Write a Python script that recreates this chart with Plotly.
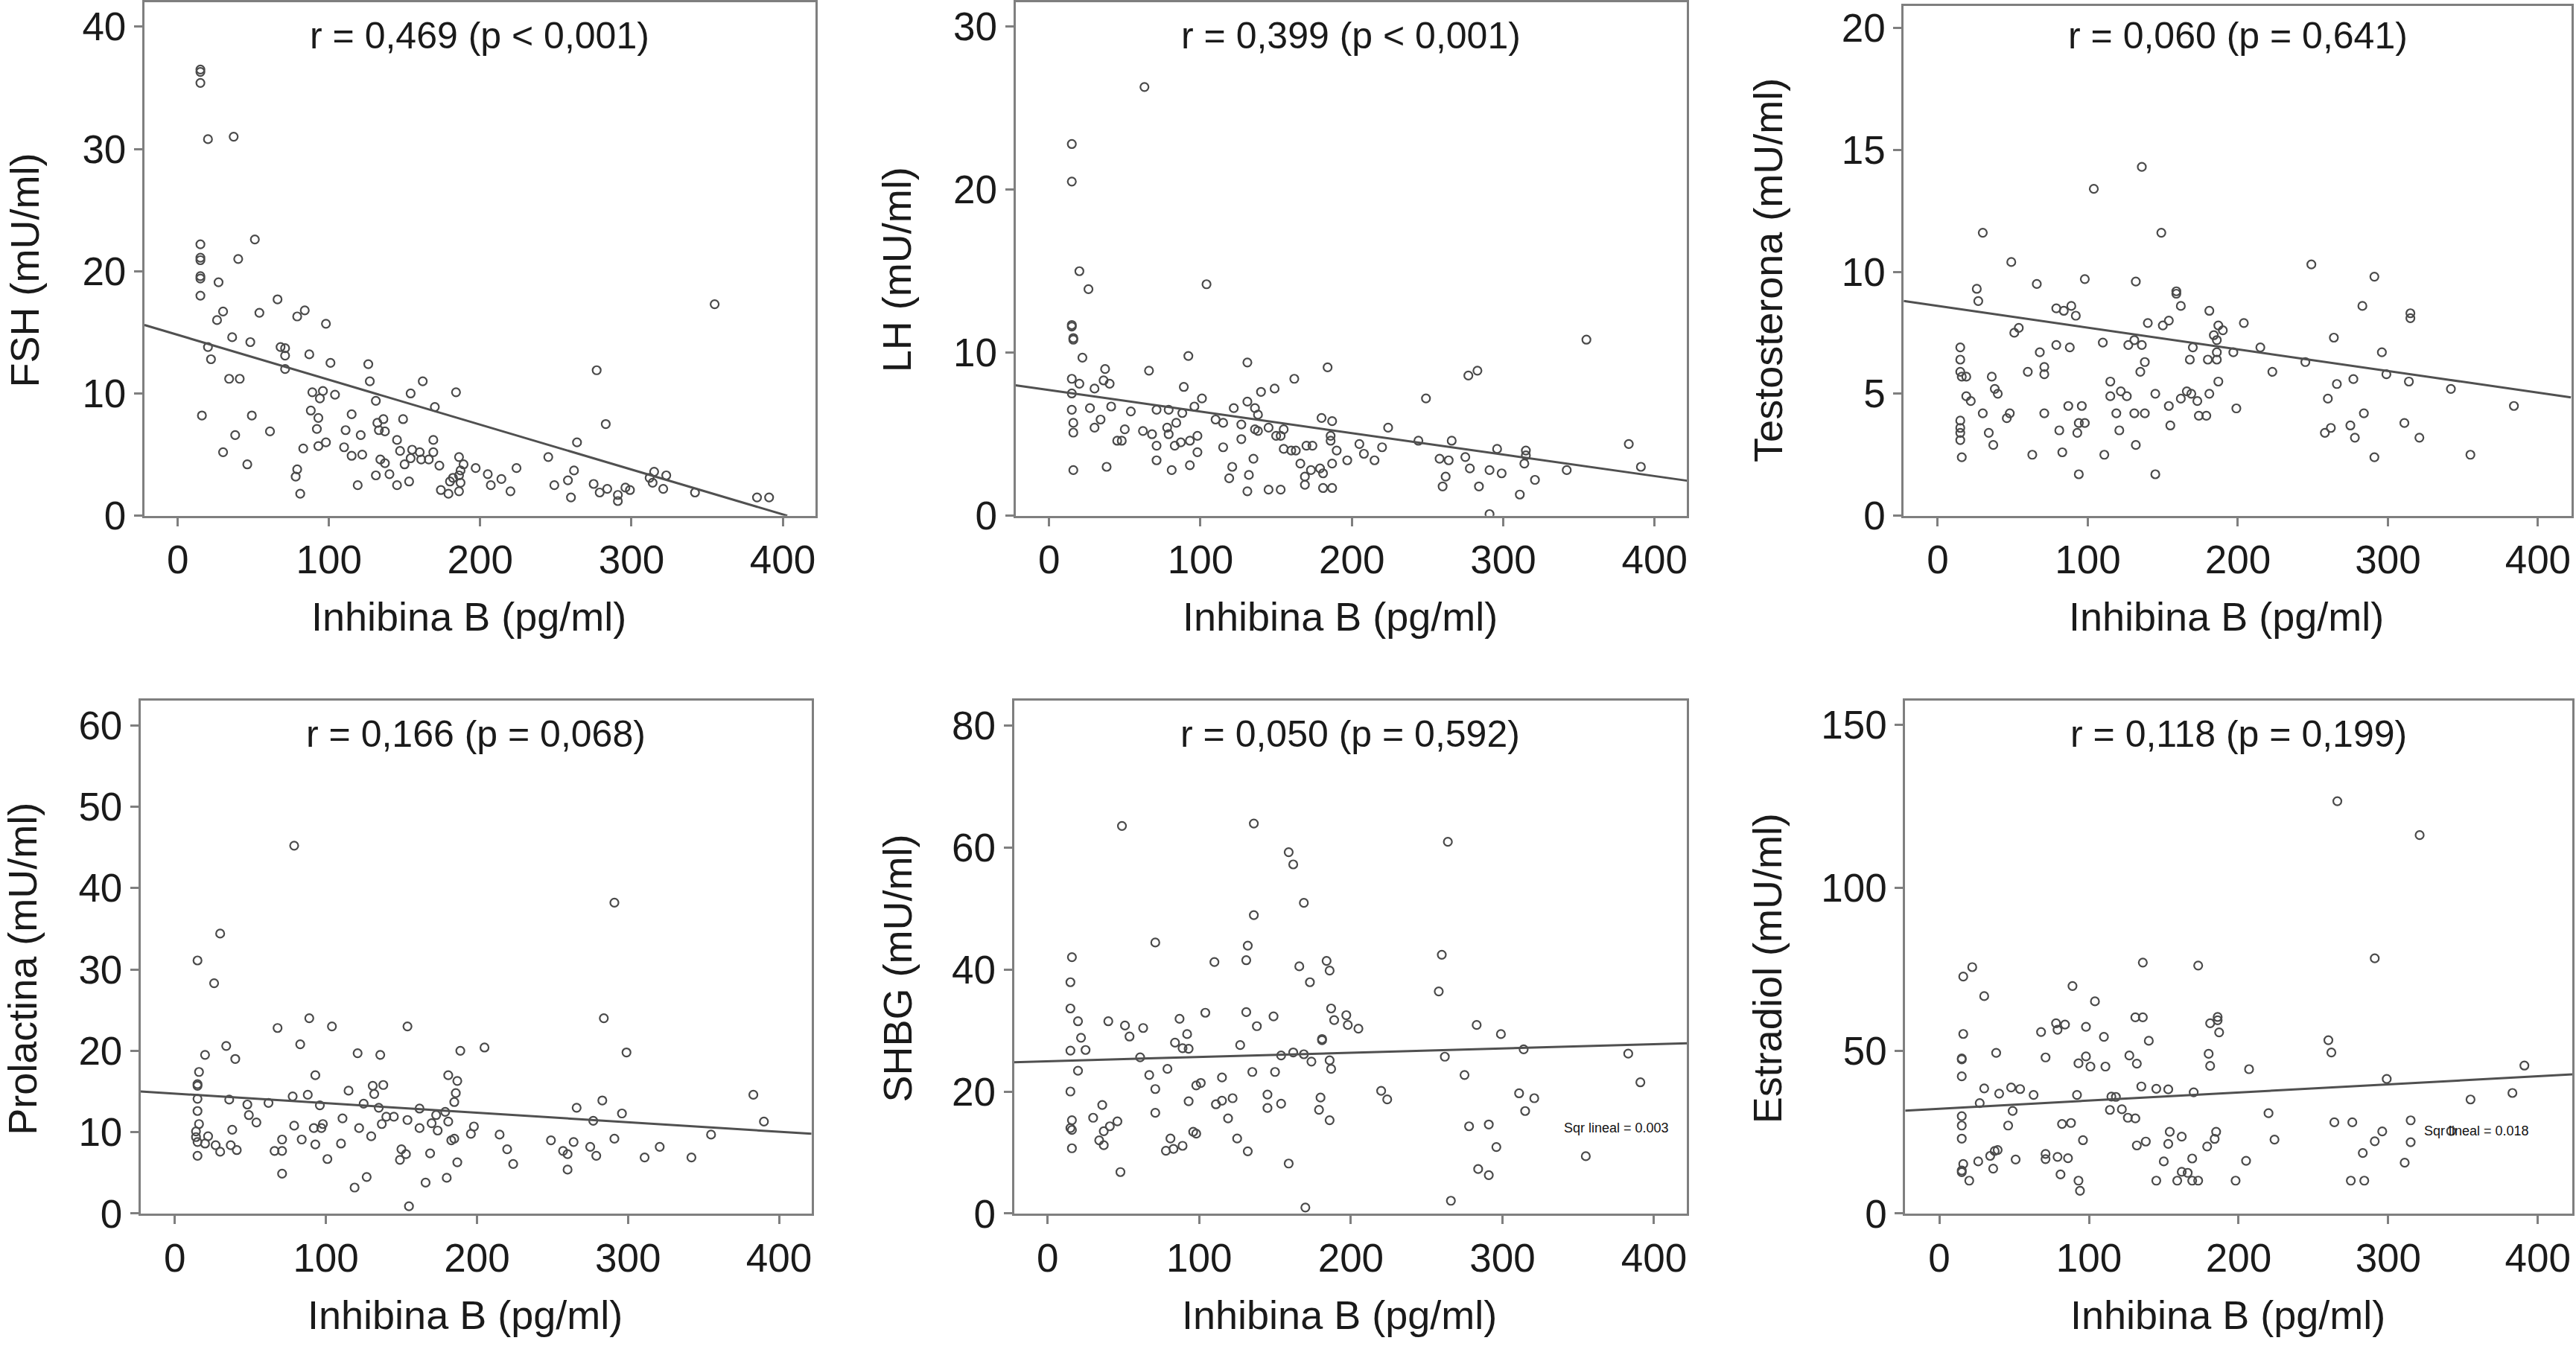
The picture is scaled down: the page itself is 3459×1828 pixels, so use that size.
import plotly.graph_objects as go

# ---- data (Inhibina B in pg/ml on x) ----
fsh_x = [15, 15, 15, 20, 37, 51, 15, 15, 15, 40,
         15, 15, 27, 15, 30, 26, 54, 66, 84, 79,
         98, 36, 48, 20, 22, 68, 71, 71, 71, 87,
         101, 126, 127, 34, 41, 277, 89, 96, 94, 104,
         154, 162, 184, 131, 170, 16, 49, 88, 93, 115,
         149, 136, 132, 283, 61, 38, 92, 111, 133, 137,
         121, 145, 169, 264, 93, 98, 110, 83, 30, 147,
         155, 160, 169, 115, 122, 154, 161, 166, 186, 245,
         134, 137, 150, 173, 46, 187, 189, 197, 224, 262,
         79, 140, 131, 205, 315, 323, 312, 78, 182, 186,
         214, 258, 314, 180, 153, 187, 119, 145, 207, 249,
         275, 174, 179, 186, 220, 284, 296, 299, 321, 279,
         342, 81, 260, 291, 291, 383, 391, 355]
fsh_y = [36.5, 36.3, 35.4, 30.8, 31.0, 22.6, 22.2, 21.1, 20.9, 21.0,
         19.6, 19.4, 19.1, 18.0, 16.7, 16.0, 16.6, 17.7, 16.8, 16.3,
         15.7, 14.6, 14.2, 13.8, 12.8, 13.8, 13.7, 13.1, 12.0, 13.2,
         12.5, 12.4, 11.0, 11.2, 11.2, 11.9, 10.1, 10.2, 9.6, 9.9,
         10.0, 11.0, 10.1, 9.4, 8.9, 8.2, 8.2, 8.6, 8.0, 8.3,
         7.9, 7.9, 7.6, 7.5, 6.9, 6.6, 7.1, 7.0, 7.0, 6.9,
         6.6, 6.2, 6.2, 6.0, 5.7, 6.0, 5.6, 5.5, 5.2, 5.3,
         5.4, 5.2, 5.2, 4.9, 5.0, 4.7, 4.6, 4.6, 4.8, 4.8,
         4.6, 4.3, 4.2, 4.1, 4.2, 3.7, 4.2, 3.9, 3.9, 3.7,
         3.8, 3.4, 3.3, 3.4, 3.6, 3.3, 3.1, 3.2, 3.1, 3.3,
         3.0, 2.9, 2.7, 2.8, 2.8, 2.7, 2.5, 2.5, 2.5, 2.5,
         2.6, 2.1, 1.8, 2.0, 2.0, 2.2, 2.3, 2.1, 2.2, 1.9,
         1.9, 1.8, 1.5, 1.7, 1.2, 1.5, 1.5, 17.3]
fsh_fit_x = [-22, 403]
fsh_fit_y = [15.6, 0.0]

lh_x = [63, 15, 15, 20, 26, 104, 15, 15, 16, 16,
        355, 22, 92, 131, 184, 37, 66, 283, 277, 15,
        36, 20, 40, 162, 30, 89, 140, 149, 15, 101,
        249, 131, 27, 41, 71, 79, 54, 15, 96, 122,
        136, 88, 138, 180, 110, 115, 187, 34, 84, 127,
        16, 30, 145, 50, 62, 78, 136, 138, 155, 224,
        16, 79, 68, 98, 150, 153, 186, 186, 45, 48,
        93, 244, 266, 127, 383, 71, 83, 87, 115, 170,
        174, 205, 220, 296, 155, 160, 163, 190, 315, 98,
        208, 315, 71, 135, 197, 258, 275, 264, 215, 166,
        187, 314, 16, 38, 81, 93, 121, 173, 179, 181,
        278, 291, 299, 342, 391, 132, 169, 262, 119, 321,
        169, 181, 187, 260, 284, 145, 153, 131, 311, 291]
lh_y = [26.3, 22.8, 20.5, 15.0, 13.9, 14.2, 11.7, 11.6, 10.9, 10.8,
        10.8, 9.7, 9.8, 9.4, 9.1, 9.0, 8.9, 8.9, 8.6, 8.4,
        8.3, 8.1, 8.1, 8.4, 7.8, 7.9, 7.6, 7.8, 7.5, 7.2,
        7.2, 7.0, 6.6, 6.7, 6.5, 6.5, 6.4, 6.5, 6.7, 6.6,
        6.6, 6.3, 6.2, 6.0, 5.9, 5.7, 5.8, 5.9, 5.7, 5.6,
        5.7, 5.4, 5.4, 5.3, 5.2, 5.4, 5.3, 5.2, 5.3, 5.4,
        5.1, 5.0, 5.0, 4.9, 4.9, 4.9, 4.9, 4.6, 4.6, 4.6,
        4.6, 4.6, 4.6, 4.7, 4.4, 4.3, 4.3, 4.5, 4.2, 4.3,
        4.3, 4.4, 4.2, 4.1, 4.1, 4.0, 4.0, 4.0, 4.0, 3.9,
        3.8, 3.7, 3.4, 3.5, 3.4, 3.5, 3.6, 3.4, 3.4, 3.2,
        3.2, 3.2, 2.8, 3.0, 2.8, 3.1, 3.0, 2.8, 2.9, 2.6,
        2.9, 2.8, 2.6, 2.8, 3.0, 2.5, 2.4, 2.4, 2.3, 2.2,
        1.9, 1.7, 1.7, 1.8, 1.8, 1.6, 1.6, 1.5, 1.3, 0.1]
lh_fit_x = [-22.2, 421.5]
lh_fit_y = [8.0, 2.15]

test_x = [136, 104, 30, 149, 49, 249, 291, 98, 132, 26,
          66, 159, 159, 27, 89, 162, 283, 79, 84, 92,
          181, 315, 315, 140, 150, 154, 187, 204, 190, 51,
          54, 184, 186, 264, 110, 131, 136, 127, 79, 88,
          215, 15, 170, 68, 186, 197, 296, 15, 138, 168,
          180, 186, 245, 71, 15, 60, 135, 223, 16, 19,
          36, 71, 299, 277, 115, 187, 266, 314, 38, 40,
          166, 169, 122, 126, 115, 145, 181, 342, 19, 22,
          162, 173, 260, 87, 96, 154, 384, 199, 30, 48,
          71, 46, 119, 131, 138, 174, 179, 284, 15, 94,
          98, 311, 15, 155, 262, 275, 81, 121, 15, 34,
          93, 258, 278, 321, 15, 37, 132, 83, 63, 111,
          355, 291, 16, 94, 145]
test_y = [14.3, 13.4, 11.6, 11.6, 10.4, 10.3, 9.8, 9.7, 9.6, 9.3,
          9.5, 9.2, 9.1, 8.8, 8.6, 8.6, 8.6, 8.5, 8.4, 8.2,
          8.4, 8.3, 8.1, 7.9, 7.8, 8.0, 7.8, 7.9, 7.6, 7.5,
          7.7, 7.4, 7.2, 7.3, 7.1, 7.2, 7.0, 7.0, 7.0, 6.9,
          6.9, 6.9, 6.9, 6.7, 6.7, 6.7, 6.7, 6.4, 6.3, 6.4,
          6.4, 6.4, 6.3, 6.1, 5.9, 5.9, 5.9, 5.9, 5.7, 5.7,
          5.7, 5.8, 5.8, 5.6, 5.5, 5.5, 5.4, 5.5, 5.2, 5.0,
          5.1, 5.0, 5.1, 4.9, 4.9, 5.0, 5.0, 5.2, 4.9, 4.7,
          4.8, 4.7, 4.8, 4.5, 4.5, 4.5, 4.5, 4.4, 4.2, 4.2,
          4.2, 4.0, 4.2, 4.2, 4.2, 4.1, 4.1, 4.2, 3.9, 3.8,
          3.8, 3.8, 3.6, 3.7, 3.6, 3.7, 3.5, 3.5, 3.4, 3.4,
          3.4, 3.4, 3.2, 3.2, 3.1, 2.9, 2.9, 2.6, 2.5, 2.5,
          2.5, 2.4, 2.4, 1.7, 1.7]
test_fit_x = [-22.7, 422]
test_fit_y = [8.8, 4.85]

prol_x = [79, 291, 30, 15, 26, 89, 284, 68, 104, 154,
          83, 34, 205, 20, 40, 121, 136, 189, 299, 16,
          93, 181, 187, 15, 15, 115, 131, 138, 132, 186,
          383, 78, 88, 15, 36, 62, 185, 283, 48, 96,
          125, 135, 162, 266, 15, 179, 296, 173, 140, 145,
          49, 111, 154, 277, 390, 54, 181, 16, 137, 98,
          170, 79, 122, 162, 92, 97, 198, 174, 38, 14,
          196, 215, 355, 22, 130, 14, 71, 185, 291, 84,
          183, 249, 264, 15, 20, 110, 93, 27, 37, 275,
          321, 150, 220, 41, 30, 66, 71, 257, 260, 169,
          153, 15, 279, 311, 342, 101, 149, 187, 224, 260,
          71, 127, 166, 180, 119, 155]
prol_y = [45.2, 38.2, 34.4, 31.1, 28.3, 24.0, 24.0, 22.8, 23.0, 23.0,
          20.8, 20.6, 20.4, 19.5, 19.0, 19.7, 19.5, 20.0, 19.8, 17.4,
          17.0, 17.0, 16.3, 15.9, 15.7, 15.1, 15.7, 15.8, 14.7, 14.8,
          14.6, 14.4, 14.6, 14.1, 14.0, 13.6, 13.7, 13.9, 13.4, 13.3,
          13.5, 13.0, 12.9, 13.0, 12.6, 12.5, 12.3, 12.1, 11.9, 11.9,
          12.1, 11.7, 11.5, 11.4, 11.3, 11.2, 11.3, 11.0, 11.0, 11.0,
          11.1, 10.8, 10.5, 10.5, 10.5, 10.5, 10.7, 10.2, 10.3, 10.1,
          9.8, 9.7, 9.7, 9.5, 9.5, 9.4, 9.1, 9.2, 9.2, 9.1,
          9.0, 9.0, 8.8, 8.8, 8.6, 8.6, 8.5, 8.4, 8.4, 8.2,
          8.2, 7.9, 7.9, 7.8, 7.6, 7.7, 7.7, 7.7, 7.3, 7.4,
          7.3, 7.1, 7.1, 6.9, 6.9, 6.7, 6.6, 6.3, 6.1, 5.4,
          4.9, 4.5, 3.8, 4.4, 3.2, 0.9]
prol_fit_x = [-22.6, 421.5]
prol_fit_y = [15.0, 9.8]

shbg_x = [49, 136, 264, 159, 162, 169, 136, 71, 132, 16,
          260, 110, 131, 184, 166, 186, 15, 173, 258, 15,
          187, 104, 131, 149, 197, 87, 20, 40, 189, 51,
          198, 138, 63, 283, 205, 92, 299, 22, 54, 181,
          181, 84, 127, 89, 93, 25, 15, 314, 162, 154,
          169, 383, 61, 262, 174, 186, 79, 20, 135, 150,
          187, 67, 275, 115, 101, 98, 391, 15, 71, 220,
          311, 145, 180, 224, 122, 321, 93, 115, 111, 154,
          36, 145, 179, 315, 71, 30, 119, 16, 46, 186,
          41, 278, 291, 15, 16, 37, 96, 98, 125, 81,
          34, 37, 16, 89, 83, 78, 132, 296, 355, 159,
          284, 291, 48, 266, 170]
shbg_y = [63.5, 63.9, 60.9, 59.2, 57.2, 50.9, 48.9, 44.4, 43.9, 42.0,
          42.4, 41.2, 41.5, 41.4, 40.5, 39.8, 37.9, 37.9, 36.4, 33.6,
          33.6, 32.9, 33.0, 32.3, 32.5, 31.9, 31.5, 31.5, 31.7, 30.8,
          30.9, 30.7, 30.4, 30.9, 30.3, 29.4, 29.4, 28.8, 29.0, 28.6,
          28.4, 28.0, 27.6, 27.1, 27.0, 26.8, 26.7, 26.9, 26.4, 25.9,
          26.1, 26.2, 25.6, 25.7, 24.9, 25.1, 23.7, 23.4, 23.2, 23.2,
          23.7, 22.7, 22.7, 22.3, 21.4, 21.0, 21.5, 20.0, 20.4, 20.1,
          19.7, 19.5, 19.0, 18.7, 18.9, 18.9, 18.4, 18.5, 17.9, 18.0,
          17.8, 17.3, 17.0, 16.8, 16.5, 15.7, 15.6, 15.3, 15.1, 15.3,
          14.3, 14.3, 14.6, 14.0, 13.7, 13.5, 13.4, 13.1, 12.3, 12.3,
          12.0, 11.2, 10.7, 11.1, 10.6, 10.3, 10.2, 10.9, 9.4, 8.2,
          7.3, 6.3, 6.8, 2.1, 1.0]
shbg_fit_x = [-22.2, 421.8]
shbg_fit_y = [24.8, 27.9]

estr_x = [266, 321, 136, 173, 291, 22, 16, 89, 30, 104,
          131, 136, 186, 186, 78, 84, 181, 79, 98, 16,
          68, 187, 110, 140, 260, 38, 262, 180, 127, 71,
          98, 15, 15, 93, 132, 101, 111, 181, 391, 207,
          15, 299, 135, 30, 48, 54, 145, 153, 40, 170,
          383, 63, 92, 115, 118, 355, 27, 114, 122, 49,
          220, 15, 126, 131, 264, 276, 315, 82, 88, 15,
          46, 154, 185, 296, 342, 162, 184, 15, 96, 224,
          291, 153, 315, 138, 132, 179, 37, 39, 283, 34,
          71, 71, 79, 86, 51, 169, 26, 150, 205, 16,
          311, 36, 15, 15, 162, 166, 81, 20, 93, 145,
          159, 169, 173, 198, 275, 284, 94]
estr_y = [126.5, 116.1, 77.0, 76.1, 78.3, 75.6, 72.7, 69.8, 66.7, 65.1,
          60.2, 60.2, 60.3, 59.3, 58.4, 58.0, 58.4, 56.4, 57.3, 55.1,
          55.7, 55.6, 54.2, 53.0, 53.2, 49.3, 49.4, 49.0, 48.5, 47.9,
          48.2, 47.6, 47.3, 46.1, 46.0, 45.1, 45.1, 45.3, 45.4, 44.3,
          42.1, 41.3, 39.0, 38.4, 38.7, 38.2, 38.3, 38.1, 36.8, 37.2,
          37.0, 36.4, 36.4, 35.9, 35.8, 35.0, 33.9, 31.8, 32.0, 31.5,
          30.8, 29.9, 29.4, 29.2, 28.0, 28.0, 28.6, 27.5, 27.8, 27.0,
          27.0, 25.1, 25.1, 25.2, 25.3, 23.6, 22.9, 23.0, 22.5, 22.7,
          22.2, 21.4, 21.9, 22.1, 20.9, 20.6, 19.2, 19.5, 18.6, 17.7,
          18.3, 16.7, 17.4, 17.0, 16.6, 16.9, 16.0, 16.0, 16.2, 15.2,
          15.6, 13.8, 13.2, 12.7, 12.8, 12.5, 12.0, 10.1, 10.1, 10.1,
          10.1, 10.1, 10.1, 10.1, 10.1, 10.1, 7.0]
estr_fit_x = [-22.8, 423]
estr_fit_y = [31.6, 42.7]

y_titles = ["FSH (mU/ml)", "LH (mU/ml)", "Testosterona (mU/ml)",
            "Prolactina (mU/ml)", "SHBG (mU/ml)", "Estradiol (mU/ml)"]
r_labels = ["r = 0,469 (p < 0,001)", "r = 0,399 (p < 0,001)", "r = 0,060 (p = 0,641)",
            "r = 0,166 (p = 0,068)", "r = 0,050 (p = 0,592)", "r = 0,118 (p = 0,199)"]
y_max = [42.0, 31.5, 20.9, 63.0, 84.0, 157.3]
y_dtick = [10, 10, 5, 10, 20, 50]
x_min = [-22, -22.2, -22.7, -22.6, -22.2, -22.8]
x_max = [421.5, 421.5, 422.4, 421.5, 421.8, 423]
rsq_labels = [None, None, None, None, "Sqr lineal = 0.003", "Sqr lineal = 0.018"]
rsq_pos = [None, None, None, None, (375, 14.0), (359, 25.4)]

panels = [(fsh_x, fsh_y, fsh_fit_x, fsh_fit_y),
          (lh_x, lh_y, lh_fit_x, lh_fit_y),
          (test_x, test_y, test_fit_x, test_fit_y),
          (prol_x, prol_y, prol_fit_x, prol_fit_y),
          (shbg_x, shbg_y, shbg_fit_x, shbg_fit_y),
          (estr_x, estr_y, estr_fit_x, estr_fit_y)]

W, H = 3459, 1828
# plot-area boxes in pixels: left, right, top, bottom
boxes = [(194, 1095, 1, 703), (1364, 2266, 1, 703), (2557, 3454, 6, 703),
         (189, 1090, 956, 1657), (1362, 2266, 956, 1657), (2559, 3455, 956, 1657)]
ytitle_off = [161, 160, 183, 159, 157, 185]

FONT = "Liberation Sans, Arial, sans-serif"
TXT = "#1a1a1a"
FRAME = "#7f7f7f"
PT = "#4a4a4a"

fig = go.Figure()
annotations = []
for i, (px, py, fx, fy) in enumerate(panels):
    n = "" if i == 0 else str(i + 1)
    xa, ya = "x" + n, "y" + n
    l, r, t, b = boxes[i]
    fig.add_trace(go.Scatter(x=px, y=py, mode="markers", xaxis=xa, yaxis=ya,
                             marker=dict(symbol="circle-open", size=11, color=PT,
                                         line=dict(width=2.2, color=PT)),
                             showlegend=False, cliponaxis=True))
    fig.add_trace(go.Scatter(x=fx, y=fy, mode="lines", xaxis=xa, yaxis=ya,
                             line=dict(color="#505050", width=3),
                             showlegend=False))
    axis_common = dict(showgrid=False, zeroline=False, showline=True, mirror=True,
                       linecolor=FRAME, linewidth=3, ticks="outside", ticklen=11,
                       tickwidth=3, tickcolor=FRAME,
                       tickfont=dict(family=FONT, size=53, color=TXT))
    fig.layout["xaxis" + n] = dict(axis_common, domain=[l / W, r / W],
                                   range=[x_min[i], x_max[i]], tick0=0, dtick=100,
                                   anchor=ya)
    fig.layout["yaxis" + n] = dict(axis_common, domain=[1 - b / H, 1 - t / H],
                                   range=[0, y_max[i]], tick0=0, dtick=y_dtick[i],
                                   anchor=xa)
    cx = (l + r) / 2
    row_top = 1 if i < 3 else 956
    annotations.append(dict(text=r_labels[i], xref="paper", yref="paper",
                            x=cx / W, y=1 - (row_top + 46) / H, showarrow=False,
                            xanchor="center", yanchor="middle",
                            font=dict(family=FONT, size=50, color=TXT)))
    annotations.append(dict(text="Inhibina B (pg/ml)", xref="paper", yref="paper",
                            x=(cx - 15) / W, y=1 - (b + 138) / H, showarrow=False,
                            xanchor="center", yanchor="middle",
                            font=dict(family=FONT, size=54, color=TXT)))
    annotations.append(dict(text=y_titles[i], xref="paper", yref="paper",
                            x=(l - ytitle_off[i]) / W, y=1 - (row_top + 366) / H,
                            textangle=-90, showarrow=False,
                            xanchor="center", yanchor="middle",
                            font=dict(family=FONT, size=54, color=TXT)))
    if rsq_labels[i]:
        annotations.append(dict(text=rsq_labels[i], xref=xa, yref=ya,
                                x=rsq_pos[i][0], y=rsq_pos[i][1], showarrow=False,
                                xanchor="center", yanchor="middle",
                                font=dict(family=FONT, size=18, color="#111111")))

fig.update_layout(width=W, height=H, margin=dict(l=0, r=0, t=0, b=0),
                  paper_bgcolor="white", plot_bgcolor="white",
                  annotations=annotations, showlegend=False)
# drop the browser's default body margin so the figure fills the window exactly
fig.write_html("out.html", config={"displayModeBar": False},
               post_script="document.body.style.margin='0';"
                           "document.body.style.overflow='hidden';")
